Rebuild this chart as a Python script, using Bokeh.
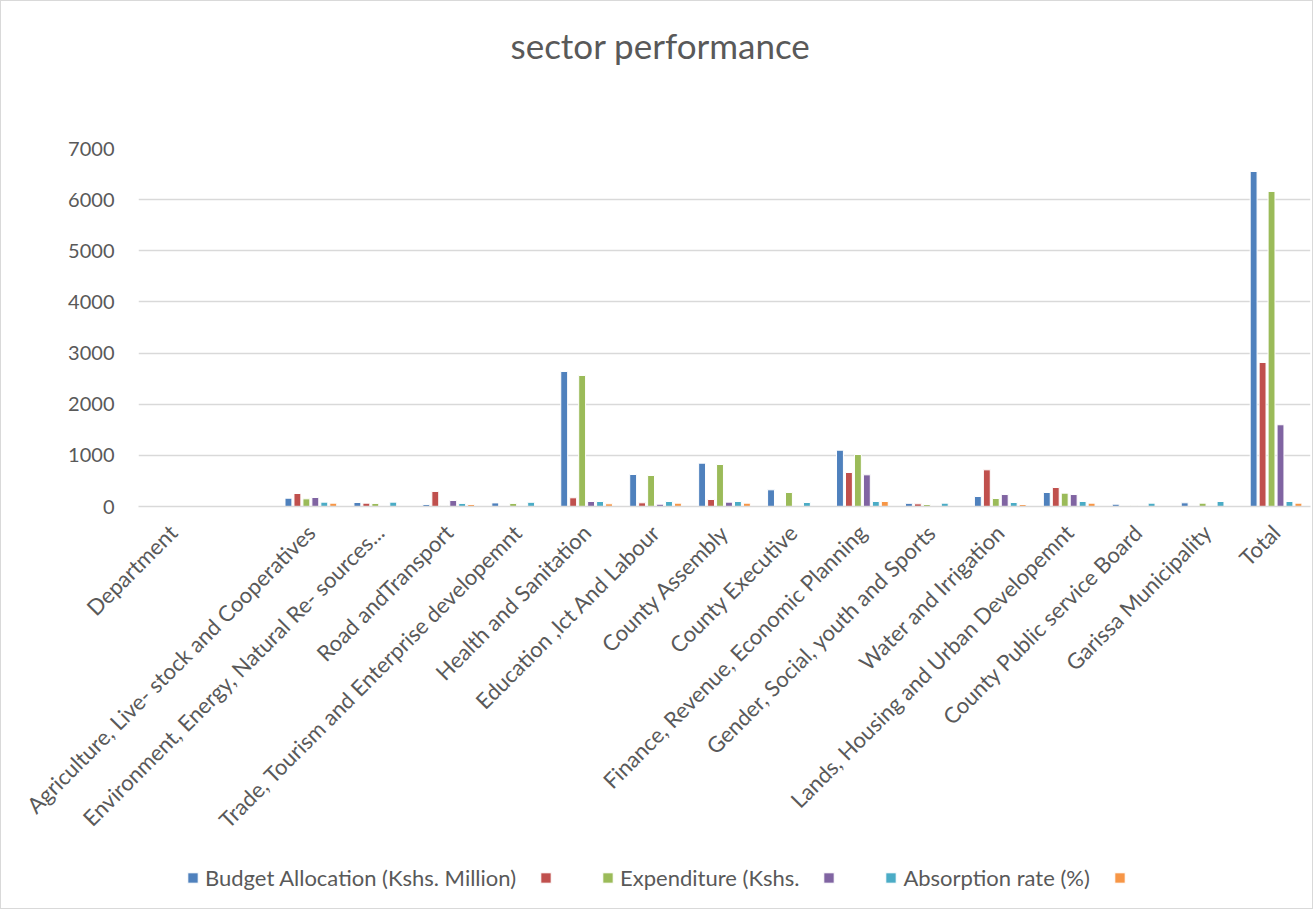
from bokeh.plotting import figure
from bokeh.layouts import column
from bokeh.models import (ColumnDataSource, Legend, LegendItem, FactorRange, Range1d, Title)
from bokeh.transform import dodge
from bokeh.embed import file_html
from bokeh.resources import INLINE
import math

categories = [
    "Department",
    " ",
    "Agriculture, Live- stock and Cooperatives",
    "Environment, Energy, Natural Re- sources...",
    "Road andTransport",
    "Trade, Tourism and Enterprise developemnt",
    "Health and Sanitation",
    "Education ,Ict And Labour",
    "County Assembly",
    "County Executive",
    "Finance, Revenue, Economic Planning",
    "Gender, Social, youth and Sports",
    "Water and Irrigation",
    "Lands, Housing and Urban Developemnt",
    "County Public service Board",
    "Garissa Municipality",
    "Total",
]
budget_allocation = [0, 0, 162, 78, 40, 70, 2640, 626, 847, 326, 1101, 62, 195, 274, 45, 72, 6550]
series_red = [0, 0, 254, 65, 294, 0, 170, 72, 137, 10, 665, 52, 717, 371, 0, 0, 2816]
expenditure = [0, 0, 150, 60, 20, 60, 2562, 606, 821, 274, 1017, 39, 156, 261, 20, 65, 6160]
series_purple = [0, 0, 176, 0, 117, 0, 98, 45, 85, 0, 619, 0, 234, 234, 0, 0, 1598]
absorption_rate = [0, 0, 85, 85, 60, 82, 98, 98, 98, 78, 98, 65, 78, 98, 65, 98, 98]
series_orange = [0, 0, 65, 0, 40, 0, 53, 65, 65, 0, 98, 0, 39, 65, 0, 0, 65]

series_labels = ["Budget Allocation (Kshs. Million)", " ", "Expenditure (Kshs.", " ",
                 "Absorption rate (%)", " "]
colors = ["#4F81BD", "#C0504D", "#9BBB59", "#8064A2", "#4BACC6", "#F79646"]
y_ticks = [0, 1000, 2000, 3000, 4000, 5000, 6000, 7000]

src = ColumnDataSource(dict(
    cat=categories, s1=budget_allocation, s2=series_red, s3=expenditure,
    s4=series_purple, s5=absorption_rate, s6=series_orange,
))

FONT = "Lato"
TXT = "#595959"

p = figure(
    frame_width=1172, frame_height=358,
    x_range=FactorRange(*categories, range_padding=0.0),
    y_range=Range1d(0, 7000),
    output_backend="svg", toolbar_location=None,
    min_border_left=137, min_border_right=2, min_border_top=147, min_border_bottom=342,
)

# spacer between title and plot area
spacer = Title(text=" ", text_font_size="1px", standoff=76)
p.add_layout(spacer, "above")
title = Title(text="sector performance", align="left", offset=372,
              text_font=FONT, text_font_size="35px", text_font_style="normal",
              text_color=TXT, standoff=8)
p.add_layout(title, "above")

p.outline_line_color = None
p.xgrid.grid_line_color = None
p.ygrid.grid_line_color = "#d9d9d9"
p.ygrid.grid_line_width = 1.3
p.yaxis.ticker = y_ticks
p.yaxis.axis_line_color = None
p.yaxis.major_tick_line_color = None
p.yaxis.minor_tick_line_color = None
p.yaxis.major_label_text_font = FONT
p.yaxis.major_label_text_font_size = "20px"
p.yaxis.major_label_text_color = TXT
p.yaxis.major_label_standoff = 18

p.xaxis.axis_line_color = "#d9d9d9"
p.xaxis.axis_line_width = 1.3
p.xaxis.major_tick_line_color = None
p.xaxis.minor_tick_line_color = None
p.xaxis.major_label_orientation = math.pi / 4
p.xaxis.major_label_text_font = FONT
p.xaxis.major_label_text_font_size = "22px"
p.xaxis.major_label_text_color = TXT
p.xaxis.major_label_standoff = 16

cols = ["s1", "s2", "s3", "s4", "s5", "s6"]
for i, (c, color) in enumerate(zip(cols, colors)):
    p.vbar(x=dodge("cat", (i - 2.5) * 0.13, range=p.x_range), top=c, width=0.1,
           source=src, fill_color=color, line_color="white", line_width=1)

# legend strip (separate figure below the chart); its series renderers are hidden
lf = figure(width=1311, height=60, x_range=FactorRange(*categories), y_range=Range1d(0, 1),
            output_backend="svg", toolbar_location=None,
            min_border=0, min_border_left=0, min_border_right=0,
            min_border_top=0, min_border_bottom=0)
lf.axis.visible = False
lf.grid.grid_line_color = None
lf.outline_line_color = None
legend_renderers = []
for c, color in zip(cols, colors):
    r = lf.vbar(x="cat", top=c, width=0.1, source=src,
                fill_color=color, line_color="white", line_width=1, visible=False)
    legend_renderers.append(r)

legend = Legend(
    items=[LegendItem(label=lab, renderers=[r]) for lab, r in zip(series_labels, legend_renderers)],
    orientation="horizontal", location=(48, 17),
    label_text_font=FONT, label_text_font_size="22px", label_text_color=TXT,
    glyph_width=13, glyph_height=13, label_standoff=6, spacing=23,
    border_line_color=None, background_fill_alpha=0, padding=0, margin=0,
    inactive_fill_alpha=0,
)
lf.add_layout(legend, "center")

layout = column(p, lf, spacing=0, styles={"border": "1px solid #d9d9d9"})

open("out.html", "w").write(file_html(layout, INLINE))
